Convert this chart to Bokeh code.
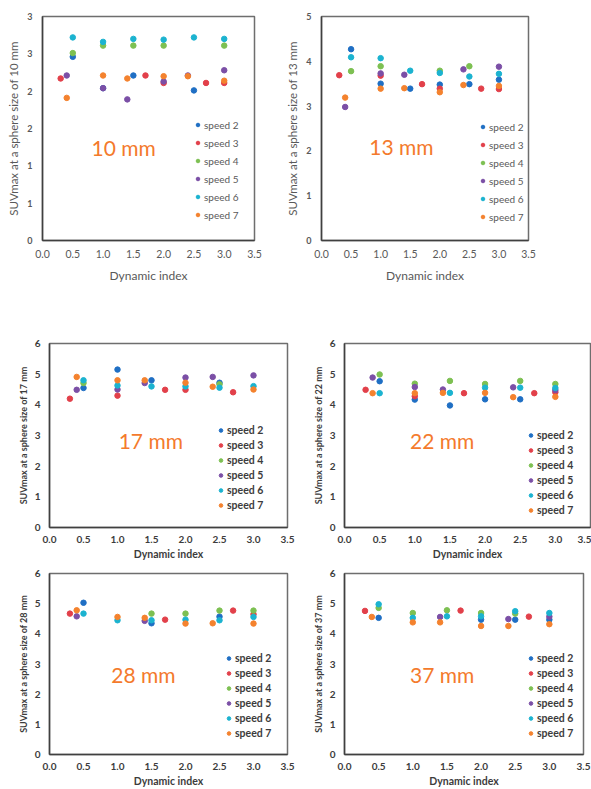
from bokeh.plotting import figure
from bokeh.layouts import column, row
from bokeh.models import Label, FixedTicker, NumeralTickFormatter, Range1d
from bokeh.embed import file_html
from bokeh.resources import INLINE

# SUVmax versus dynamic index, per scan speed, for six sphere sizes.
# Each series: (dynamic index values, SUVmax values)
speeds = ["speed 2", "speed 3", "speed 4", "speed 5", "speed 6", "speed 7"]
colors = ["#1F6FC4", "#E2404A", "#7DC052", "#7B4FA6", "#1BB3D0", "#F4822E"]

suv_10mm = {
    "speed 2": ([0.5, 1.0, 1.5, 2.5], [2.46, 2.04, 2.21, 2.01]),
    "speed 3": ([0.3, 1.7, 2.0, 2.7, 3.0], [2.17, 2.21, 2.11, 2.11, 2.11]),
    "speed 4": ([0.5, 1.0, 1.5, 2.0, 3.0], [2.51, 2.61, 2.61, 2.61, 2.61]),
    "speed 5": ([0.4, 1.0, 1.4, 2.0, 2.4, 3.0], [2.21, 2.04, 1.89, 2.13, 2.21, 2.28]),
    "speed 6": ([0.5, 1.0, 1.5, 2.0, 2.5, 3.0], [2.72, 2.66, 2.70, 2.69, 2.72, 2.70]),
    "speed 7": ([0.4, 1.0, 1.4, 2.0, 2.4, 3.0], [1.91, 2.21, 2.17, 2.20, 2.20, 2.14]),
}
suv_13mm = {
    "speed 2": ([0.5, 1.0, 1.5, 2.0, 2.5, 3.0], [4.27, 3.50, 3.39, 3.48, 3.49, 3.59]),
    "speed 3": ([0.3, 1.0, 1.7, 2.0, 2.7, 3.0], [3.69, 3.68, 3.49, 3.39, 3.39, 3.38]),
    "speed 4": ([0.5, 1.0, 2.0, 2.5], [3.78, 3.89, 3.79, 3.89]),
    "speed 5": ([0.4, 1.0, 1.4, 2.4, 3.0], [2.98, 3.73, 3.70, 3.82, 3.88]),
    "speed 6": ([0.5, 1.0, 1.5, 2.0, 2.5, 3.0], [4.09, 4.07, 3.79, 3.74, 3.66, 3.72]),
    "speed 7": ([0.4, 1.0, 1.4, 2.0, 2.4, 3.0], [3.19, 3.39, 3.40, 3.31, 3.47, 3.45]),
}
suv_17mm = {
    "speed 2": ([0.5, 1.0, 1.5, 2.5], [4.55, 5.15, 4.80, 4.72]),
    "speed 3": ([0.3, 1.0, 1.7, 2.0, 2.7], [4.20, 4.30, 4.49, 4.49, 4.41]),
    "speed 4": ([0.5, 2.5], [4.71, 4.67]),
    "speed 5": ([0.4, 1.0, 1.4, 2.0, 2.4, 3.0], [4.49, 4.50, 4.71, 4.89, 4.91, 4.96]),
    "speed 6": ([0.5, 1.0, 1.5, 2.0, 2.5, 3.0], [4.80, 4.63, 4.60, 4.60, 4.56, 4.61]),
    "speed 7": ([0.4, 1.0, 1.4, 2.0, 2.4, 3.0], [4.91, 4.80, 4.80, 4.72, 4.59, 4.50]),
}
suv_22mm = {
    "speed 2": ([0.5, 1.0, 1.5, 2.0, 2.5], [4.77, 4.17, 3.98, 4.18, 4.18]),
    "speed 3": ([0.3, 1.0, 1.7, 2.7, 3.0], [4.49, 4.28, 4.38, 4.38, 4.41]),
    "speed 4": ([0.5, 1.0, 1.5, 2.0, 2.5, 3.0], [4.99, 4.69, 4.78, 4.68, 4.78, 4.68]),
    "speed 5": ([0.4, 1.0, 1.4, 2.4, 3.0], [4.89, 4.58, 4.50, 4.57, 4.48]),
    "speed 6": ([0.5, 1.5, 2.0, 2.5, 3.0], [4.38, 4.39, 4.56, 4.56, 4.55]),
    "speed 7": ([0.4, 1.0, 1.4, 2.0, 2.4, 3.0], [4.38, 4.38, 4.39, 4.39, 4.25, 4.26]),
}
suv_28mm = {
    "speed 2": ([0.5, 1.5, 2.5], [5.03, 4.35, 4.57]),
    "speed 3": ([0.3, 1.7, 2.7, 3.0], [4.67, 4.47, 4.77, 4.65]),
    "speed 4": ([1.5, 2.0, 2.5, 3.0], [4.67, 4.67, 4.77, 4.77]),
    "speed 5": ([0.4, 1.4], [4.58, 4.43]),
    "speed 6": ([0.5, 1.0, 1.5, 2.0, 2.5, 3.0], [4.67, 4.45, 4.45, 4.47, 4.45, 4.56]),
    "speed 7": ([0.4, 1.0, 1.4, 2.0, 2.4, 3.0], [4.78, 4.56, 4.53, 4.34, 4.35, 4.34]),
}
suv_37mm = {
    "speed 2": ([0.5, 2.0, 2.5, 3.0], [4.53, 4.47, 4.47, 4.47]),
    "speed 3": ([0.3, 1.7, 2.7], [4.76, 4.77, 4.57]),
    "speed 4": ([0.5, 1.0, 1.5, 2.0, 2.5], [4.86, 4.69, 4.78, 4.69, 4.67]),
    "speed 5": ([1.4, 2.4, 3.0], [4.56, 4.49, 4.57]),
    "speed 6": ([0.5, 1.0, 1.5, 2.0, 2.5, 3.0], [4.98, 4.53, 4.58, 4.58, 4.75, 4.69]),
    "speed 7": ([0.4, 1.0, 1.4, 2.0, 2.4, 3.0], [4.56, 4.38, 4.38, 4.26, 4.26, 4.32]),
}

x_ticks = [0.0, 0.5, 1.0, 1.5, 2.0, 2.5, 3.0, 3.5]
y_ticks_10mm = [0, 0.5, 1.0, 1.5, 2.0, 2.5, 3.0]
y_labels_10mm = ["0", "1", "1", "2", "2", "3", "3"]

FONT = "Lato"
ORANGE_TEXT = "#F47A2C"


def make_panel(data, size_label, ymax, yticks, width, height, borders,
               legend_pos, tag_pos, bold, y_overrides=None):
    left, right, top, bottom = borders
    p = figure(width=width, height=height, output_backend="svg",
               toolbar_location=None,
               x_range=Range1d(0, 3.5), y_range=Range1d(0, ymax),
               min_border_left=left, min_border_right=right,
               min_border_top=top, min_border_bottom=bottom)
    p.grid.visible = False
    p.outline_line_color = "#6E6E6E"
    p.outline_line_width = 1.5
    p.background_fill_color = "white"
    p.border_fill_color = "white"

    for name, col in zip(speeds, colors):
        xs, ys = data[name]
        p.scatter(xs, ys, size=5.5, color=col, line_color=col,
                  legend_label=name)

    weight = "bold" if bold else "normal"
    txt_col = "#3C3C3C" if bold else "#595959"

    xa = p.xaxis[0]
    xa.ticker = FixedTicker(ticks=x_ticks)
    xa.formatter = NumeralTickFormatter(format="0.0")
    xa.axis_label = "Dynamic index"
    ya = p.yaxis[0]
    ya.ticker = FixedTicker(ticks=yticks)
    if y_overrides:
        ya.major_label_overrides = y_overrides
    ya.axis_label = "SUVmax at a sphere size of " + size_label

    for ax in (xa, ya):
        ax.major_tick_out = 0
        ax.major_tick_in = 0
        ax.minor_tick_out = 0
        ax.minor_tick_in = 0
        ax.axis_line_color = "#404040"
        ax.axis_line_width = 1.5
        ax.major_label_text_font = FONT
        ax.axis_label_text_font = FONT
        ax.major_label_text_color = txt_col
        ax.axis_label_text_color = txt_col
        ax.axis_label_text_font_style = weight

    if bold:
        xa.major_label_text_font_size = "10px"
        xa.major_label_text_font_style = "bold"
        xa.major_label_standoff = 8
        xa.axis_label_text_font_size = "10.5px"
        xa.axis_label_standoff = 2
        ya.major_label_text_font_size = "10px"
        ya.major_label_text_font_style = "bold"
        ya.major_label_standoff = 9
        ya.axis_label_text_font_size = "9px"
        ya.axis_label_standoff = 3
    else:
        xa.major_label_text_font_size = "10.5px"
        xa.major_label_standoff = 9
        xa.axis_label_text_font_size = "12px"
        xa.axis_label_standoff = 7
        ya.major_label_text_font_size = "9px"
        ya.major_label_text_font_style = "bold"
        ya.major_label_standoff = 10
        ya.axis_label_text_font_size = "11.5px"
        ya.axis_label_standoff = 4

    lg = p.legend[0]
    lg.location = legend_pos
    lg.background_fill_alpha = 0
    lg.border_line_alpha = 0
    lg.padding = 0
    lg.margin = 0
    lg.glyph_width = 9
    lg.label_standoff = 2
    lg.label_text_font = FONT
    lg.label_text_color = txt_col
    if bold:
        lg.label_text_font_size = "10.5px"
        lg.label_text_font_style = "bold"
        lg.glyph_height = 12
        lg.label_height = 12
        lg.spacing = 3
    else:
        lg.label_text_font_size = "10px"
        lg.glyph_height = 13
        lg.label_height = 13
        lg.spacing = 5

    p.add_layout(Label(x=tag_pos[0], y=tag_pos[1], text=size_label,
                       text_align="center", text_baseline="middle",
                       text_font=FONT, text_font_size="21px",
                       text_color=ORANGE_TEXT))
    return p


p10 = make_panel(suv_10mm, "10 mm", 3.0, y_ticks_10mm, 280, 300,
                 (42, 26, 16, 60), (151, 19), (1.34, 1.25), False,
                 y_overrides={t: s for t, s in zip(y_ticks_10mm, y_labels_10mm)})
p13 = make_panel(suv_13mm, "13 mm", 5.0, [0, 1, 2, 3, 4, 5], 311, 300,
                 (41, 63, 16, 59), (157, 17), (1.35, 2.09), False)
p17 = make_panel(suv_17mm, "17 mm", 6.0, [0, 1, 2, 3, 4, 5, 6], 305, 262,
                 (49, 18, 43, 35), (167, 16), (1.49, 2.84), True)
p22 = make_panel(suv_22mm, "22 mm", 6.0, [0, 1, 2, 3, 4, 5, 6], 286, 262,
                 (39, 1, 43, 34), (182, 11), (1.39, 2.85), True)
p28 = make_panel(suv_28mm, "28 mm", 6.0, [0, 1, 2, 3, 4, 5, 6], 305, 227,
                 (49, 18, 11, 34), (175, 15), (1.38, 2.64), True)
p37 = make_panel(suv_37mm, "37 mm", 6.0, [0, 1, 2, 3, 4, 5, 6], 286, 227,
                 (39, 8, 11, 34), (182, 15), (1.43, 2.64), True)

layout = column(row(p10, p13), row(p17, p22), row(p28, p37))

open("out.html", "w").write(file_html(layout, INLINE))
